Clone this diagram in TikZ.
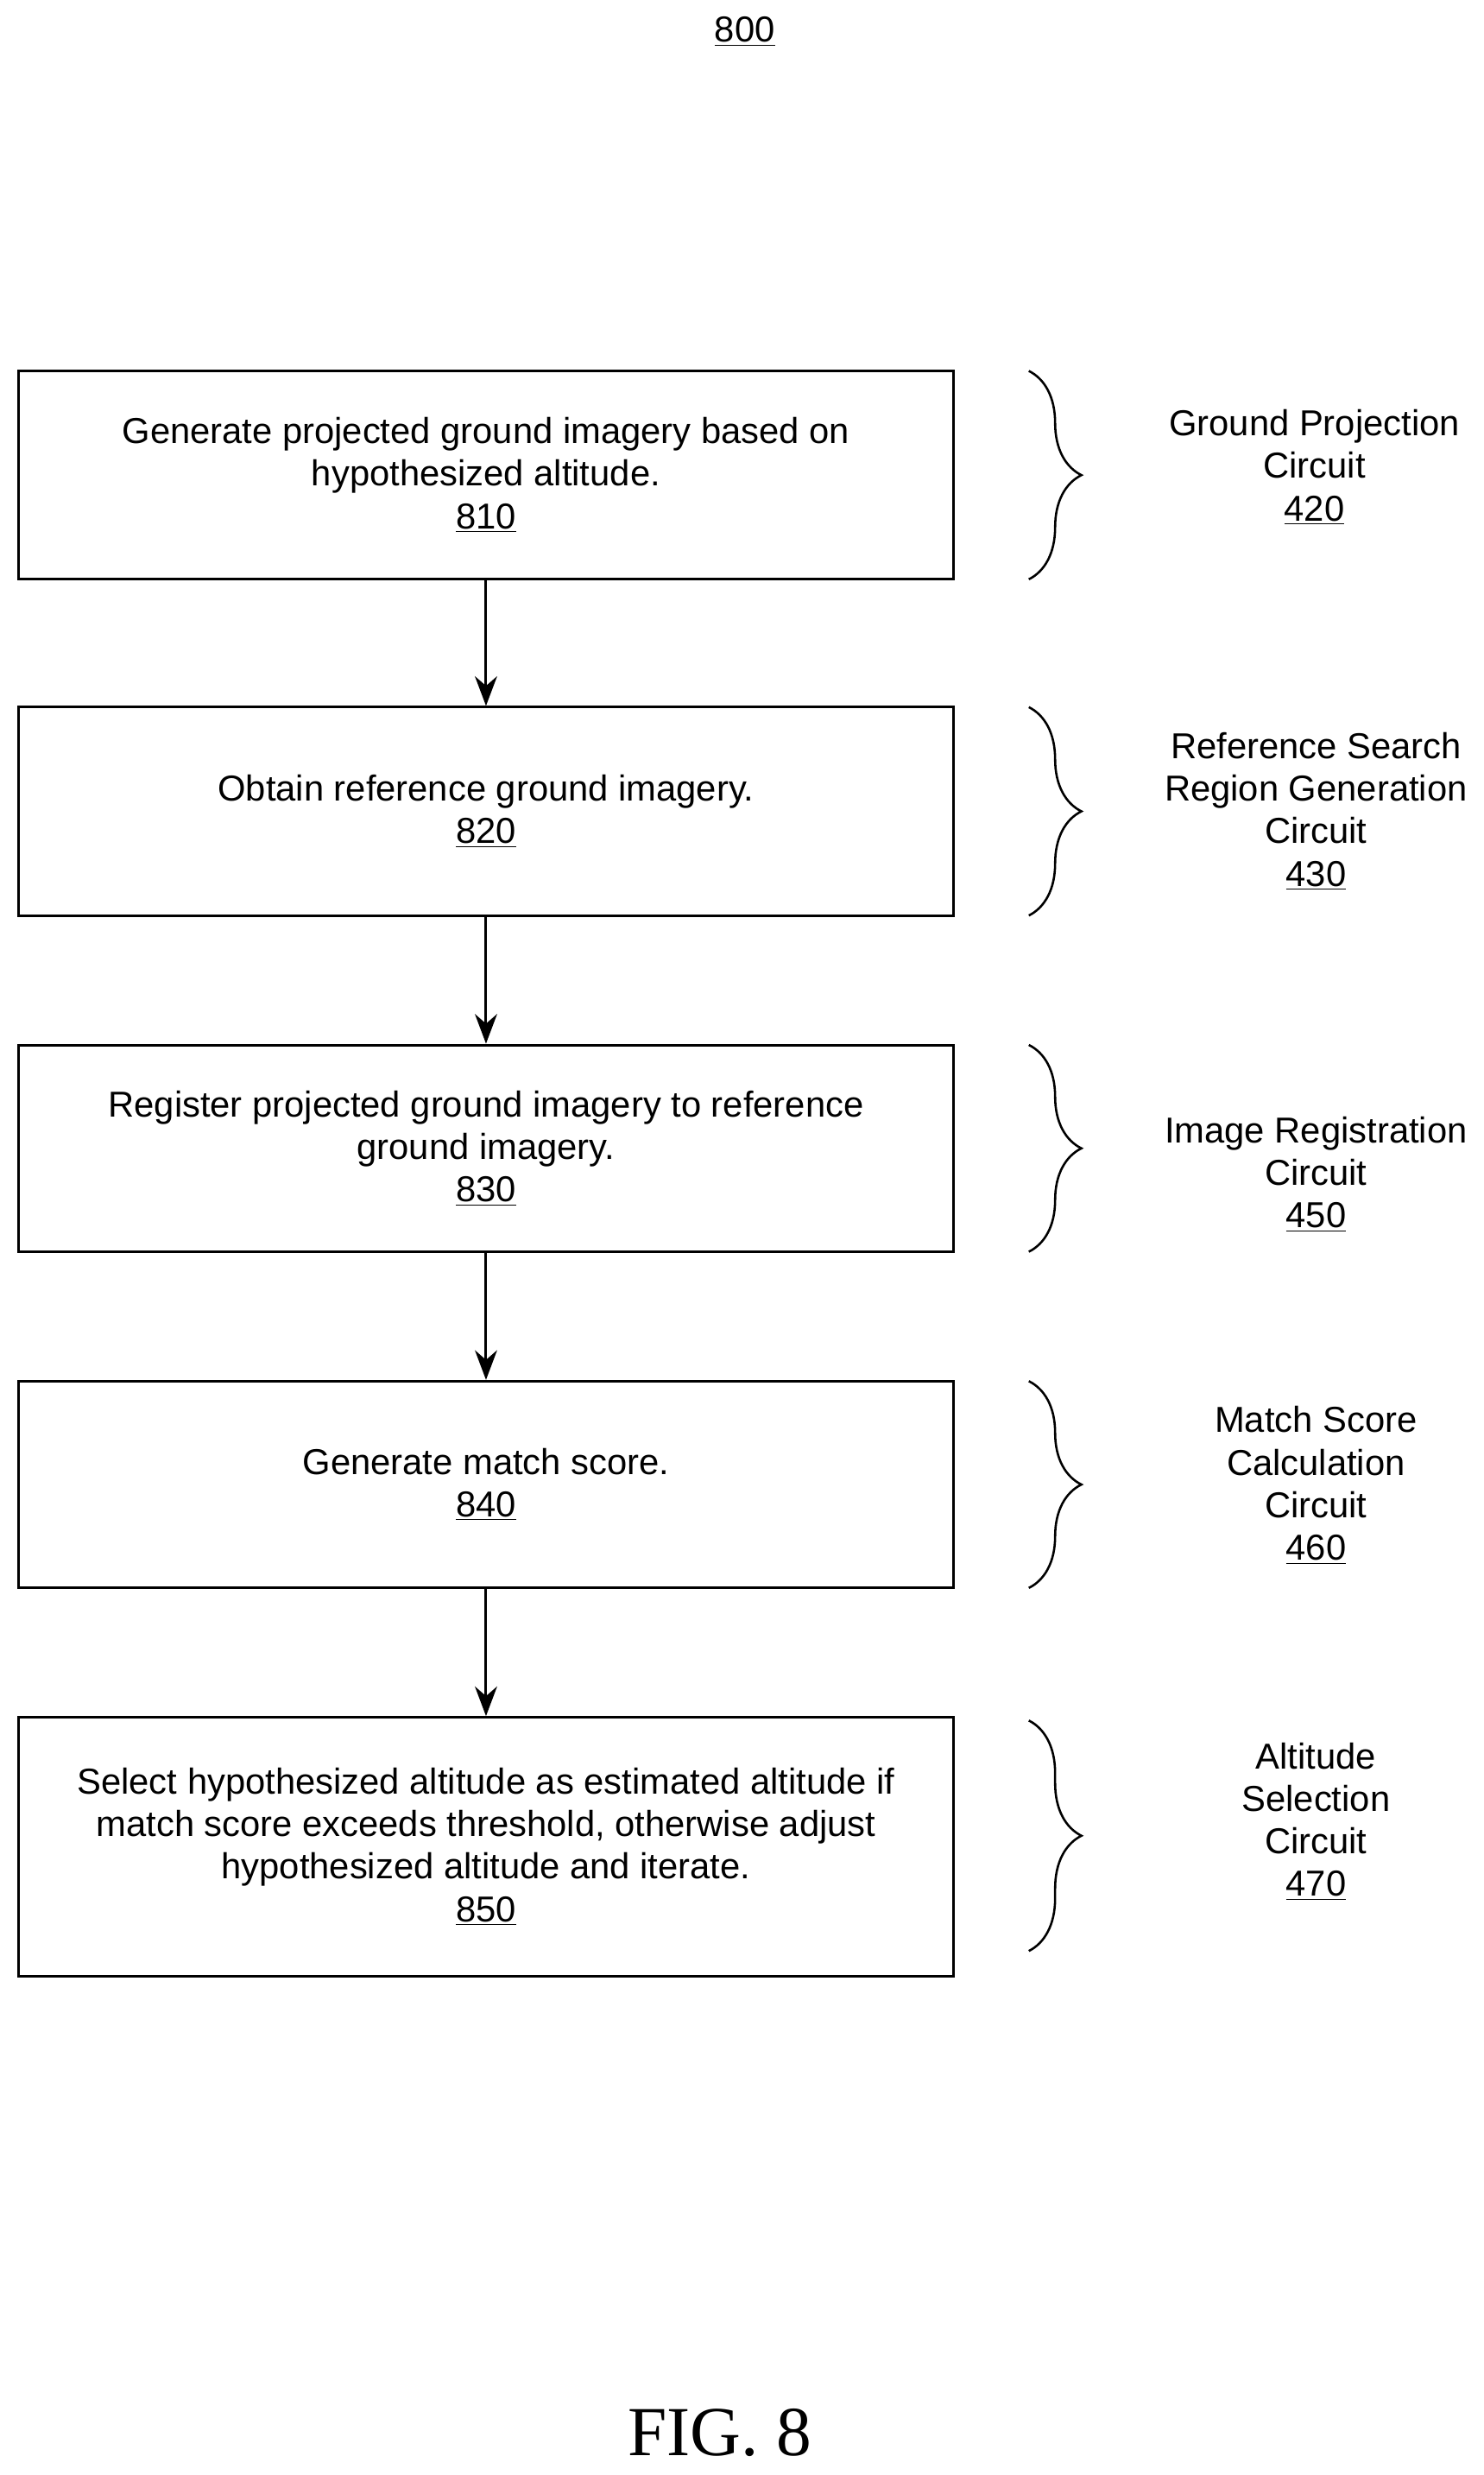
\documentclass[tikz,border=0pt]{standalone}
\usepackage{fontspec}
\setmainfont{Liberation Sans}
\newfontfamily\figfont{Liberation Serif}
\usetikzlibrary{decorations.pathreplacing,arrows.meta}
\begin{document}
\begin{tikzpicture}[x=0.03cm,y=-0.03cm,
  box/.style={draw,line width=1.4pt,minimum width=592*0.03cm,align=center,font=\fontsize{19.5}{23}\selectfont,inner sep=0pt},
  lab/.style={align=center,font=\fontsize{19.5}{23}\selectfont},
  arr/.style={-{Stealth[length=16pt,width=12pt]},line width=1.4pt},
  br/.style={decorate,decoration={brace,amplitude=1.0cm},line width=1.2pt}]
\useasboundingbox (0,0) rectangle (940,1568);
\node[font=\fontsize{19.5}{20}\selectfont] (t) at (472,20) {\underline{800}};
\node[box,minimum height=132*0.03cm] (b1) at (308,301) {Generate projected ground imagery based on\\hypothesized altitude.\\\underline{810}};
\node[box,minimum height=132*0.03cm] (b2) at (308,514) {Obtain reference ground imagery.\\\underline{820}};
\node[box,minimum height=131*0.03cm] (b3) at (308,727.5) {Register projected ground imagery to reference\\ground imagery.\\\underline{830}};
\node[box,minimum height=131*0.03cm] (b4) at (308,940.5) {Generate match score.\\\underline{840}};
\node[box,minimum height=164*0.03cm] (b5) at (308,1170) {Select hypothesized altitude as estimated altitude if\\match score exceeds threshold, otherwise adjust\\hypothesized altitude and iterate.\\\underline{850}};
\draw[arr] (b1) -- (b2);
\draw[arr] (b2) -- (b3);
\draw[arr] (b3) -- (b4);
\draw[arr] (b4) -- (b5);
\coordinate (c1a) at (652,235); \coordinate (c1b) at (652,367);
\coordinate (c2a) at (652,448); \coordinate (c2b) at (652,580);
\coordinate (c3a) at (652,662); \coordinate (c3b) at (652,793);
\coordinate (c4a) at (652,875); \coordinate (c4b) at (652,1006);
\coordinate (c5a) at (652,1090); \coordinate (c5b) at (652,1236);
\draw[br] (c1a) -- (c1b);
\draw[br] (c2a) -- (c2b);
\draw[br] (c3a) -- (c3b);
\draw[br] (c4a) -- (c4b);
\draw[br] (c5a) -- (c5b);
\node[lab] (l1) at (833,296) {Ground Projection\\Circuit\\\underline{420}};
\node[lab] (l2) at (834,514) {Reference Search\\Region Generation\\Circuit\\\underline{430}};
\node[lab] (l3) at (834,744) {Image Registration\\Circuit\\\underline{450}};
\node[lab] (l4) at (834,941) {Match Score\\Calculation\\Circuit\\\underline{460}};
\node[lab] (l5) at (834,1154) {Altitude\\Selection\\Circuit\\\underline{470}};
\node[font=\figfont\fontsize{38}{42}\selectfont] (fig) at (456,1541) {FIG. 8};
\end{tikzpicture}
\end{document}
